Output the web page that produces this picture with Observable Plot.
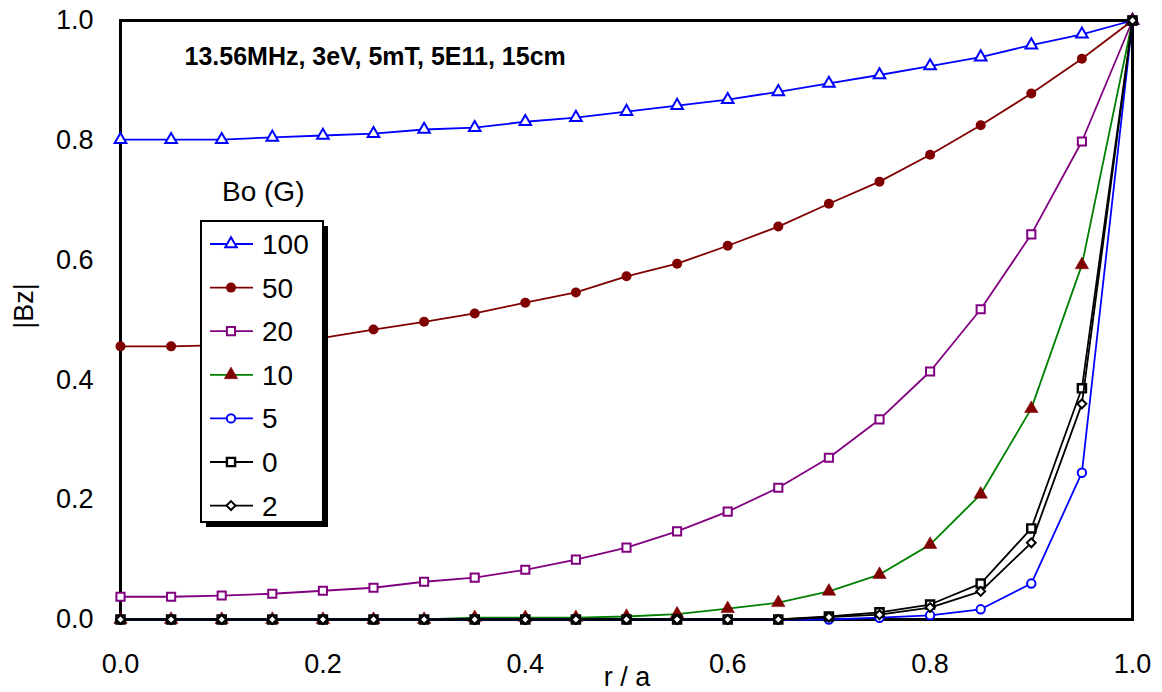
<!DOCTYPE html>
<html><head><meta charset="utf-8">
<script src="https://cdn.jsdelivr.net/npm/d3@7"></script>
<script src="https://cdn.jsdelivr.net/npm/@observablehq/plot@0.6"></script>
<style>
body{margin:0;background:#fff}
#chart{position:relative;width:1162px;height:692px}
</style>
</head><body><div id="chart"></div>
<script>
// r/a positions of the markers
const rOverA = [0,0.05,0.1,0.15,0.2,0.25,0.3,0.35,0.4,0.45,0.5,0.55,0.6,0.65,0.7,0.75,0.8,0.85,0.9,0.95,1.0];
// |Bz| for each Bo (G)
const bz100 = [0.801,0.801,0.801,0.805,0.808,0.811,0.818,0.821,0.831,0.838,0.848,0.858,0.868,0.881,0.895,0.909,0.924,0.939,0.959,0.977,1.0];
const bz50  = [0.456,0.456,0.458,0.462,0.470,0.484,0.497,0.511,0.529,0.546,0.573,0.594,0.624,0.656,0.694,0.731,0.776,0.825,0.878,0.936,1.0];
const bz20  = [0.038,0.038,0.040,0.043,0.048,0.053,0.063,0.070,0.083,0.100,0.120,0.147,0.180,0.220,0.270,0.334,0.414,0.518,0.643,0.798,1.0];
const bz10  = [0,0,0,0,0,0,0,0.003,0.003,0.003,0.005,0.009,0.018,0.028,0.047,0.075,0.125,0.209,0.352,0.592,1.0];
const bz5   = [0,0,0,0,0,0,0,0,0,0,0,0,0,0,0,0.003,0.007,0.017,0.060,0.245,1.0];
const bz0   = [0,0,0,0,0,0,0,0,0,0,0,0,0,0,0.005,0.012,0.025,0.060,0.152,0.386,1.0];
const bz2   = [0,0,0,0,0,0,0,0,0,0,0,0,0,0,0.004,0.008,0.020,0.047,0.128,0.360,1.0];

const seriesLabels = ["100","50","20","10","5","0","2"];
const seriesValues = [bz100,bz50,bz20,bz10,bz5,bz0,bz2];
const xTicks = [0,0.2,0.4,0.6,0.8,1.0];
const yTicks = [0,0.2,0.4,0.6,0.8,1.0];
const titleText = "13.56MHz, 3eV, 5mT, 5E11, 15cm";
const legendTitle = "Bo (G)";

const styles = [
  {line:"#0000ff", symbol:"triangle", r:4.3, fill:"white", stroke:"#0000ff", sw:2},
  {line:"#800000", symbol:"circle", r:5, fill:"#800000", stroke:"#800000", sw:0},
  {line:"#800080", symbol:"square", r:4.6, fill:"white", stroke:"#800080", sw:2},
  {line:"#008000", symbol:"triangle", r:5, fill:"#800000", stroke:"#800000", sw:0.5},
  {line:"#0000ff", symbol:"circle", r:4.2, fill:"white", stroke:"#0000ff", sw:2},
  {line:"#000000", symbol:"square", r:4.6, fill:"white", stroke:"#000000", sw:2.4},
  {line:"#000000", symbol:"diamond2", r:4, fill:"white", stroke:"#000000", sw:2}
];

const FONT = "'Liberation Sans', Arial, sans-serif";

const marks = [Plot.frame({stroke:"black", strokeWidth:3})];
seriesValues.forEach((vals, k) => {
  const data = rOverA.map((x,i) => ({x, y: vals[i]}));
  const s = styles[k];
  marks.push(Plot.line(data, {x:"x", y:"y", stroke:s.line, strokeWidth:1.8}));
  marks.push(Plot.dot(data, {x:"x", y:"y", symbol:()=>s.symbol, r:s.r, fill:s.fill, stroke:s.stroke, strokeWidth:s.sw}));
});
marks.push(Plot.text([titleText], {text:d=>d, frameAnchor:"top-left", dx:64, dy:27, lineAnchor:"top", textAnchor:"start", fontWeight:"bold", fontSize:25}));

const chart = Plot.plot({
  width:1162, height:692,
  marginLeft:120, marginRight:30, marginTop:20, marginBottom:73,
  style:{fontFamily:FONT, fontSize:"27px", color:"black", background:"white", overflow:"visible"},
  x:{domain:[0,1], ticks:xTicks, tickFormat:".1f", tickSize:0, tickPadding:34, label:null},
  y:{domain:[0,1], ticks:yTicks, tickFormat:".1f", tickSize:0, tickPadding:27, label:null},
  symbol:{type:"identity"},
  marks
});

const svg = d3.select(chart);
// axis labels
svg.append("text").attr("x",627).attr("y",686).attr("text-anchor","middle")
  .attr("font-size",27).attr("font-family",FONT).attr("fill","black").text("r / a");
svg.append("text").attr("transform","translate(33,306) rotate(-90)").attr("text-anchor","middle")
  .attr("font-size",27).attr("font-family",FONT).attr("fill","black").text("|Bz|");

// legend
const lg = svg.append("g").attr("font-family",FONT).attr("font-size",28).attr("text-anchor","start");
lg.append("text").attr("x",222).attr("y",201).attr("text-anchor","start").attr("fill","black").text(legendTitle);
lg.append("rect").attr("x",206).attr("y",226).attr("width",122).attr("height",301).attr("fill","black");
lg.append("rect").attr("x",201).attr("y",221).attr("width",122).attr("height",301).attr("fill","white").attr("stroke","black").attr("stroke-width",2);
const symMap = {triangle:d3.symbolTriangle, circle:d3.symbolCircle, square:d3.symbolSquare, diamond2:d3.symbolDiamond2};
seriesLabels.forEach((lab,k) => {
  const s = styles[k];
  const yy = 244 + k*43.6;
  lg.append("line").attr("x1",210).attr("x2",253).attr("y1",yy).attr("y2",yy).attr("stroke",s.line).attr("stroke-width",1.8);
  lg.append("path").attr("transform",`translate(231,${yy})`)
    .attr("d", d3.symbol(symMap[s.symbol], Math.PI*s.r*s.r)())
    .attr("fill",s.fill).attr("stroke",s.stroke).attr("stroke-width",s.sw);
  lg.append("text").attr("x",262).attr("y",yy+10).attr("text-anchor","start").attr("fill","black").text(lab);
});

document.getElementById("chart").appendChild(chart);
</script>
</body></html>
